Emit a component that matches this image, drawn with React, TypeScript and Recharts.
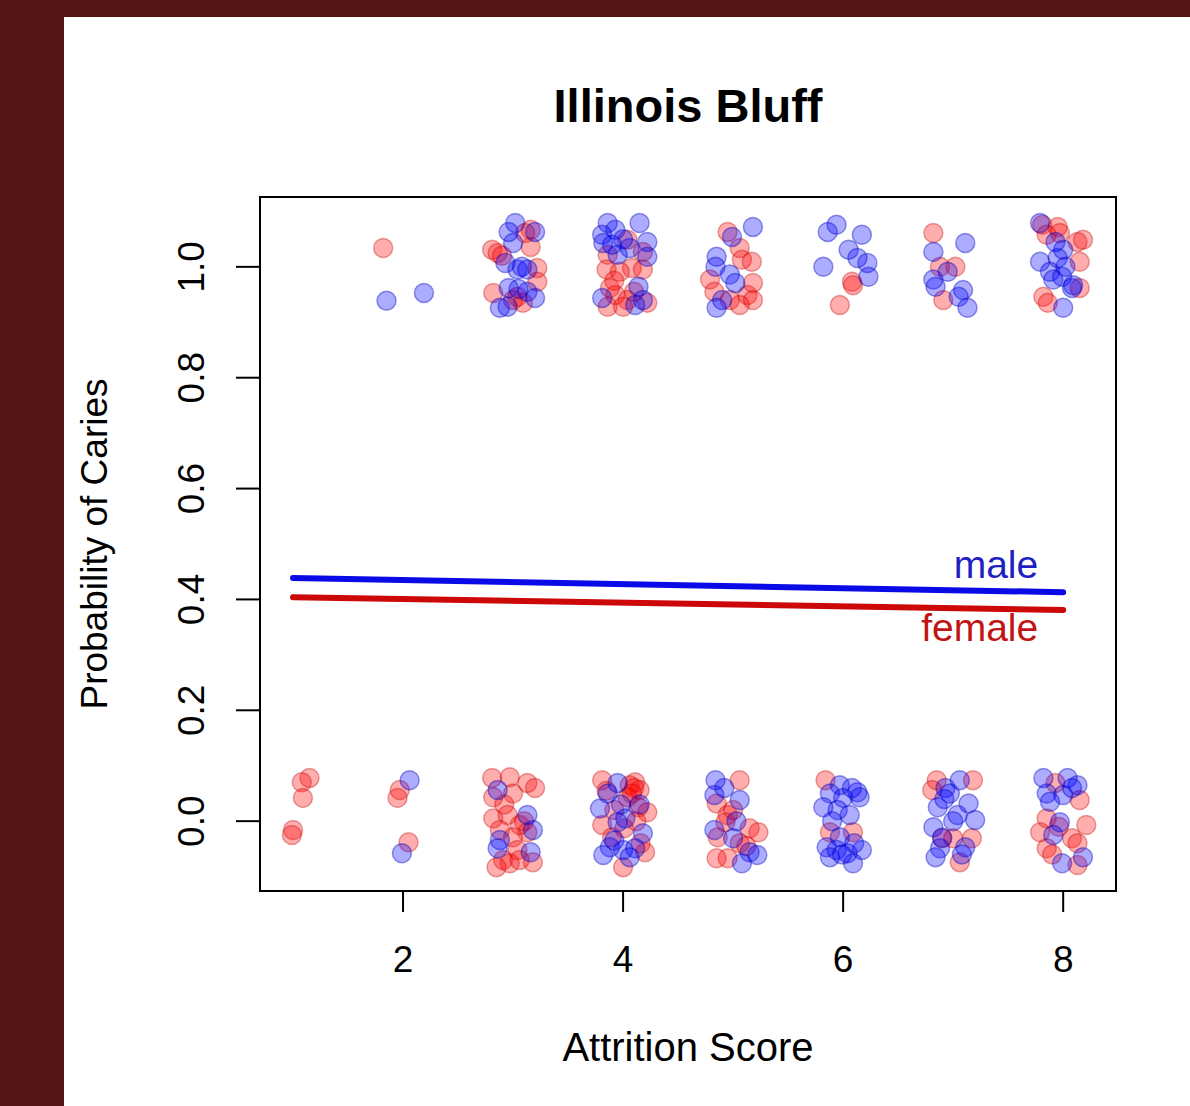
import React from 'react';
import { ComposedChart, Scatter, Line, XAxis, YAxis, ReferenceArea } from 'recharts';

const xTicks = [2, 4, 6, 8];
const yTicks = [0, 0.2, 0.4, 0.6, 0.8, 1.0];
const xDomain = [0.7, 8.48];
const yDomain = [-0.126, 1.126];

const femalePts: [number, number][] = [
  [1.82, 1.034],
  [3.16, 1.067], [3.11, 1.061], [3.16, 1.036], [2.81, 1.031], [2.86, 1.025], [3.22, 0.998], [3.22, 0.973], [2.82, 0.953], [3.04, 0.946], [3.0, 0.94], [3.09, 0.935], [2.9, 1.02],
  [4.04, 1.049], [4.18, 1.027], [3.86, 1.022], [3.85, 0.995], [4.08, 0.998], [4.18, 0.995], [3.97, 0.991], [3.88, 0.962], [3.93, 0.949], [4.04, 0.94], [3.86, 0.928], [4.22, 0.935], [4.0, 0.928], [3.92, 0.975], [4.1, 0.955],
  [4.95, 1.063], [5.06, 1.034], [5.08, 1.013], [5.17, 1.009], [4.79, 0.977], [5.18, 0.971], [4.83, 0.955], [5.13, 0.949], [4.97, 0.94], [5.18, 0.94], [5.06, 0.931],
  [6.08, 0.973], [6.09, 0.967], [5.97, 0.931],
  [6.82, 1.061], [6.88, 1.0], [7.02, 1.0], [6.91, 0.94],
  [7.81, 1.076], [7.95, 1.072], [7.85, 1.058], [7.97, 1.061], [8.18, 1.049], [8.13, 1.045], [8.15, 1.009], [8.15, 0.962], [7.82, 0.946], [7.86, 0.935],
  [1.15, 0.078], [1.08, 0.07], [1.09, 0.042], [1.0, -0.016], [0.99, -0.025],
  [1.97, 0.056], [1.95, 0.042], [2.05, -0.038],
  [2.81, 0.078], [2.97, 0.079], [3.13, 0.069], [3.2, 0.06], [2.82, 0.043], [3.0, 0.05], [2.82, 0.005], [2.95, 0.011], [3.06, -0.007], [2.88, -0.016], [3.13, -0.02], [3.0, -0.029], [3.04, -0.052], [2.91, -0.07], [2.97, -0.076], [3.18, -0.074], [2.85, -0.083], [3.06, -0.07], [3.1, 0.0], [2.92, 0.03],
  [3.81, 0.074], [4.11, 0.07], [4.06, 0.065], [4.15, 0.056], [4.04, 0.043], [4.14, 0.025], [4.22, 0.016], [3.81, -0.007], [4.01, -0.013], [3.9, -0.029], [4.2, -0.056], [4.0, -0.083], [4.1, 0.06], [4.08, 0.05], [3.92, 0.02], [4.12, 0.0], [3.85, 0.055], [4.16, -0.04],
  [5.06, 0.074], [4.85, 0.032], [4.95, 0.011], [4.93, -0.002], [5.15, -0.013], [5.23, -0.02], [4.86, -0.029], [5.06, -0.04], [4.85, -0.067], [4.95, -0.067], [5.0, 0.02], [5.12, -0.045],
  [5.84, 0.074], [5.88, -0.02], [6.09, -0.02],
  [6.85, 0.074], [7.18, 0.074], [6.81, 0.056], [7.0, -0.031], [7.17, -0.031], [7.06, -0.074], [6.9, -0.031],
  [7.93, 0.069], [8.15, 0.038], [7.85, 0.005], [8.21, -0.007], [7.79, -0.02], [8.08, -0.031], [8.13, -0.04], [7.85, -0.049], [8.13, -0.079], [7.96, -0.01], [7.9, -0.06],
];

const malePts: [number, number][] = [
  [1.85, 0.939], [2.19, 0.953],
  [3.02, 1.079], [2.96, 1.063], [3.2, 1.063], [3.0, 1.043], [2.93, 1.007], [3.04, 0.995], [3.13, 0.995], [2.96, 0.962], [3.13, 0.955], [3.2, 0.944], [2.88, 0.926], [2.95, 0.928], [3.08, 1.0], [3.05, 0.96],
  [3.86, 1.079], [4.15, 1.079], [3.81, 1.058], [3.93, 1.067], [4.22, 1.045], [3.82, 1.043], [4.06, 1.034], [3.95, 1.022], [4.22, 1.018], [4.14, 0.964], [3.81, 0.944], [4.18, 0.94], [4.11, 0.931], [4.0, 1.05], [3.9, 1.04],
  [5.18, 1.072], [4.99, 1.054], [4.85, 1.018], [4.84, 1.0], [4.97, 0.986], [5.02, 0.971], [4.9, 0.94], [4.85, 0.926],
  [5.94, 1.076], [5.86, 1.063], [6.17, 1.058], [6.05, 1.031], [6.22, 1.007], [5.82, 1.0], [6.13, 1.016], [6.23, 0.982],
  [7.11, 1.043], [6.82, 1.027], [6.95, 0.991], [6.82, 0.977], [6.84, 0.964], [7.09, 0.958], [7.05, 0.946], [7.13, 0.926],
  [7.79, 1.079], [8.0, 1.031], [7.95, 1.016], [7.79, 1.009], [7.88, 0.991], [7.99, 0.982], [8.09, 0.967], [8.08, 0.962], [8.0, 0.926], [7.91, 0.977], [8.02, 1.0], [7.93, 1.045],
  [2.06, 0.074], [1.99, -0.058],
  [2.86, 0.056], [3.13, 0.011], [3.18, -0.016], [2.88, -0.034], [2.86, -0.049], [3.16, -0.056],
  [3.95, 0.069], [3.86, 0.05], [3.79, 0.023], [3.95, -0.002], [4.18, -0.022], [3.88, -0.047], [4.0, -0.052], [4.11, -0.049], [3.82, -0.061], [4.06, -0.065], [4.02, 0.005], [3.92, -0.035], [4.15, 0.03], [3.98, 0.03],
  [4.84, 0.074], [4.83, 0.047], [5.06, 0.038], [4.83, -0.016], [5.0, -0.031], [5.15, -0.056], [5.22, -0.061], [5.08, -0.076], [5.03, 0.0], [4.92, 0.06],
  [5.97, 0.065], [6.13, 0.052], [5.88, 0.05], [6.0, 0.042], [6.15, 0.043], [5.82, 0.025], [5.95, 0.02], [6.06, 0.011], [5.97, -0.029], [5.85, -0.047], [5.94, -0.052], [6.04, -0.058], [6.17, -0.052], [5.88, -0.065], [6.09, -0.076], [5.9, 0.0], [6.1, -0.04], [5.99, -0.06], [6.08, 0.06],
  [7.06, 0.074], [6.93, 0.06], [6.97, 0.05], [6.86, 0.025], [7.14, 0.032], [7.2, 0.002], [6.82, -0.011], [7.04, 0.011], [6.88, -0.049], [7.11, -0.047], [6.84, -0.065], [6.92, 0.04], [7.0, 0.0], [6.9, -0.03], [7.08, -0.06],
  [7.82, 0.078], [8.04, 0.078], [8.13, 0.065], [7.85, 0.05], [8.0, 0.047], [7.97, -0.002], [7.91, -0.025], [8.18, -0.065], [7.99, -0.076], [8.08, 0.06], [7.88, 0.035],
];

const maleLine = [{ x: 1, y: 0.4386 }, { x: 8, y: 0.413 }];
const femaleLine = [{ x: 1, y: 0.404 }, { x: 8, y: 0.381 }];

const femaleData = femalePts.map(([x, y]) => ({ x, y }));
const maleData = malePts.map(([x, y]) => ({ x, y }));

const FONT = '"Liberation Sans", Arial, Helvetica, sans-serif';

const redDot = (p: any) => (
  <circle cx={p.cx} cy={p.cy} r={9.5} fill="rgba(255,0,0,0.32)" stroke="rgba(190,0,0,0.35)" strokeWidth={1.5} />
);
const blueDot = (p: any) => (
  <circle cx={p.cx} cy={p.cy} r={9.5} fill="rgba(0,0,255,0.32)" stroke="rgba(0,0,190,0.4)" strokeWidth={1.5} />
);

const XTick = (p: any) => (
  <text x={p.x} y={p.y + 60} textAnchor="middle" fontSize={37} fontFamily={FONT} fill="#000">
    {p.payload.value}
  </text>
);
const YTick = (p: any) => {
  const tx = p.x - 32;
  return (
    <text x={tx} y={p.y} transform={`rotate(-90, ${tx}, ${p.y})`} textAnchor="middle" fontSize={37} fontFamily={FONT} fill="#000">
      {Number(p.payload.value).toFixed(1)}
    </text>
  );
};

const maleLabel = (p: any) =>
  p.index === maleLine.length - 1 ? (
    <text x={p.x - 25} y={p.y - 14} textAnchor="end" fontSize={39} fontFamily={FONT} fill="#1f1fc4">male</text>
  ) : null;
const femaleLabel = (p: any) =>
  p.index === femaleLine.length - 1 ? (
    <text x={p.x - 25} y={p.y + 31} textAnchor="end" fontSize={39} fontFamily={FONT} fill="#c21414">female</text>
  ) : null;

export default function App() {
  return (
    <div style={{ position: 'absolute', left: 0, top: 0, width: 1190, height: 1106, background: '#521414', overflow: 'hidden' }}>
      <div style={{ position: 'absolute', left: 64, top: 17, width: 1126, height: 1089, background: '#ffffff' }} />
      <div
        style={{
          position: 'absolute', left: 260, width: 856, top: 82, height: 47, lineHeight: '47px',
          textAlign: 'center', fontFamily: FONT, fontWeight: 'bold', fontSize: 47, color: '#000',
        }}
      >
        Illinois Bluff
      </div>
      <div style={{ position: 'absolute', left: 0, top: 0 }}>
        <ComposedChart width={1190} height={1106} margin={{ top: 197, right: 74, bottom: 115, left: 160 }}>
          <XAxis
            type="number"
            dataKey="x"
            domain={xDomain}
            ticks={xTicks}
            allowDataOverflow
            axisLine={false}
            tickSize={21}
            tickMargin={0}
            tickLine={{ stroke: '#000', strokeWidth: 2 }}
            tick={<XTick />}
            height={100}
            label={(props: any) => (
              <text x={688} y={1061} textAnchor="middle" fontSize={40} fontFamily={FONT} fill="#000">Attrition Score</text>
            )}
          />
          <YAxis
            type="number"
            dataKey="y"
            domain={yDomain}
            ticks={yTicks}
            allowDataOverflow
            axisLine={false}
            tickSize={24}
            tickMargin={0}
            tickLine={{ stroke: '#000', strokeWidth: 2 }}
            tick={<YTick />}
            width={100}
            label={(props: any) => (
              <text x={107} y={544} transform="rotate(-90, 107, 544)" textAnchor="middle" fontSize={37} fontFamily={FONT} fill="#000">Probability of Caries</text>
            )}
          />
          <ReferenceArea x1={xDomain[0]} x2={xDomain[1]} y1={yDomain[0]} y2={yDomain[1]} fill="none" stroke="#000" strokeWidth={2} fillOpacity={0} />
          <Scatter data={femaleData} shape={redDot} isAnimationActive={false} />
          <Scatter data={maleData} shape={blueDot} isAnimationActive={false} />
          <Line data={maleLine} dataKey="y" stroke="#0a0ae6" strokeWidth={6} strokeLinecap="round" dot={false} isAnimationActive={false} label={maleLabel} />
          <Line data={femaleLine} dataKey="y" stroke="#cc0808" strokeWidth={6} strokeLinecap="round" dot={false} isAnimationActive={false} label={femaleLabel} />
        </ComposedChart>
      </div>
    </div>
  );
}
